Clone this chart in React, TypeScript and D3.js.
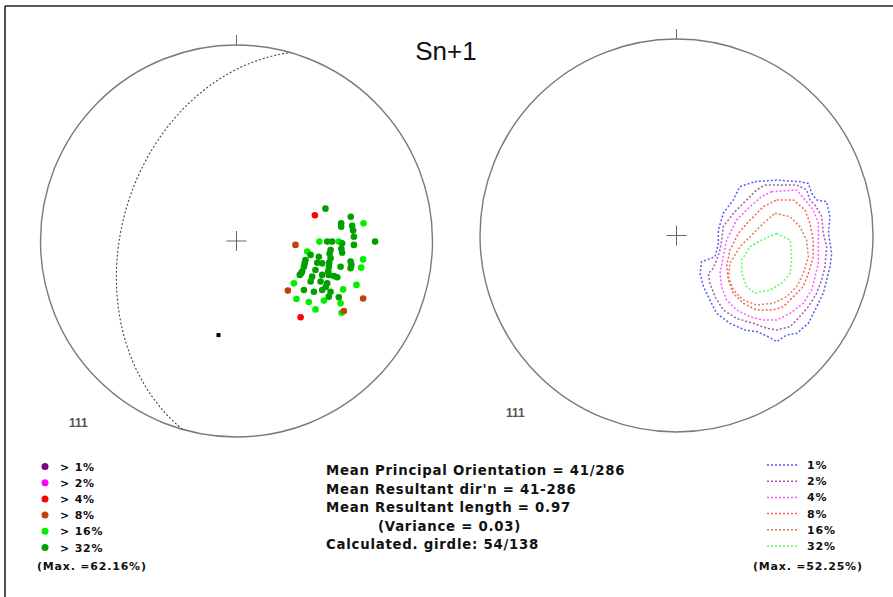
import React from 'react';
import * as d3 from 'd3';

const W = 893;
const H = 597;

const title = 'Sn+1';
const sampleCount = '111';

const densityLevels = ['1%', '2%', '4%', '8%', '16%', '32%'];
const pointColors = ['#800080', '#ff00ff', '#ff0000', '#c04010', '#00f000', '#00a000'];
const contourColors = ['#5858ff', '#a458b4', '#ff58ff', '#ff5858', '#d98058', '#58ff58'];

const statsLines = [
  'Mean Principal Orientation = 41/286',
  "Mean Resultant dir'n = 41-286",
  'Mean Resultant length = 0.97',
  '(Variance = 0.03)',
  'Calculated. girdle: 54/138',
];
const maxLeft = '(Max. =62.16%)';
const maxRight = '(Max. =52.25%)';

// mean plane (dip direction / dip)
const planeDipDir = 286;
const planeDip = 41;

// poles in net coordinates (East, North), % of net radius
const poles4: [number, number][] = [[40.0, 13.1], [32.7, -38.9]];
const poles8: [number, number][] = [[30.1, -2.0], [26.2, -25.3], [64.6, -29.3], [54.8, -35.7]];
const poles16: [number, number][] = [
  [64.8, 9.0], [42.3, -0.3], [52.2, -0.3], [36.1, -5.4], [64.6, -9.4], [63.6, -13.6],
  [29.3, -21.6], [61.2, -22.4], [54.4, -24.7], [30.6, -29.6], [36.9, -31.1], [44.6, -30.4],
  [53.1, -31.8], [40.3, -34.9], [53.6, -36.6],
];
const poles32: [number, number][] = [
  [45.4, 16.5], [58.3, 12.4], [53.4, 9.0], [53.4, 7.3], [59.0, 7.8], [59.5, 5.3], [59.9, 2.2],
  [46.3, -0.3], [48.8, -0.3], [53.9, -1.2], [59.9, -2.0], [70.7, -0.3], [48.0, -4.6], [53.9, -6.0],
  [37.8, -7.1], [42.0, -8.0], [48.0, -8.8], [58.2, -10.5], [35.2, -9.7], [41.2, -11.1], [43.7, -11.4],
  [53.1, -13.1], [58.2, -13.9], [34.4, -13.1], [33.5, -15.6], [40.3, -14.8], [47.1, -13.1],
  [32.3, -17.3], [38.6, -18.2], [43.7, -17.3], [47.1, -17.3], [49.7, -17.9], [51.4, -18.5],
  [37.8, -20.7], [42.9, -20.7], [46.3, -21.6], [34.4, -25.0], [39.5, -25.9], [43.7, -25.0],
  [48.0, -25.9], [52.2, -28.7], [47.1, -28.4], [47.5, -6.5], [47.3, -11.0], [46.8, -15.5],
  [45.5, -23.5], [53.5, -4.0], [58.6, -12.2], [34.8, -11.3], [33.0, -16.5],
];
const meanPoint: [number, number] = [-9.2, -48.0];

// density contours (East, North), % of net radius
const contour1: [number, number][] = [
  [39.9, 27.4], [51.0, 28.2], [62.8, 27.4], [67.1, 26.5], [68.8, 21.5], [71.3, 18.1], [76.4, 17.2],
  [78.1, 9.6], [77.3, 1.1], [79.0, -9.1], [78.1, -15.9], [76.4, -22.6], [74.7, -29.4], [70.5, -37.9],
  [67.1, -44.7], [61.2, -49.8], [56.1, -50.6], [51.0, -54.0], [46.7, -51.5], [40.8, -48.9],
  [34.9, -48.1], [27.2, -44.7], [20.4, -39.6], [17.0, -32.8], [13.7, -26.0], [12.0, -19.3],
  [12.8, -13.3], [19.6, -10.8], [21.3, -4.0], [21.3, 2.8], [23.8, 11.3], [28.9, 18.1], [32.3, 24.9],
];
const contour2: [number, number][] = [
  [45.0, 25.7], [61.2, 25.7], [66.2, 23.2], [67.9, 18.1], [70.5, 15.5], [73.9, 9.6], [74.7, 1.1],
  [76.4, -5.7], [75.6, -15.9], [73.9, -22.6], [71.3, -29.4], [67.1, -36.2], [61.2, -43.0],
  [57.8, -46.4], [51.0, -48.1], [45.9, -47.2], [39.1, -44.7], [30.6, -42.2], [23.8, -37.9],
  [19.6, -31.1], [17.0, -24.3], [16.2, -19.3], [18.7, -16.7], [20.4, -12.5], [22.1, -7.4],
  [23.0, -2.3], [23.8, 4.5], [28.9, 11.3], [35.7, 18.1], [40.8, 23.2],
];
const contour4: [number, number][] = [
  [48.4, 22.3], [61.2, 23.2], [65.4, 18.1], [69.6, 13.0], [72.2, 6.2], [72.2, -5.7], [72.2, -14.2],
  [70.5, -21.0], [68.8, -27.7], [64.5, -34.5], [57.8, -39.6], [51.0, -43.0], [44.2, -43.0],
  [37.4, -41.3], [30.6, -37.9], [25.5, -32.8], [23.0, -26.0], [22.1, -19.3], [23.8, -10.8],
  [25.5, -2.3], [30.6, 7.9], [37.4, 14.7], [43.3, 19.8],
];
const contour8: [number, number][] = [
  [51.0, 18.1], [59.5, 18.1], [65.4, 13.0], [67.9, 6.2], [69.6, -2.3], [69.6, -10.8], [67.1, -19.3],
  [64.5, -26.0], [59.5, -31.1], [54.4, -36.2], [49.3, -37.9], [40.8, -37.9], [34.0, -34.5],
  [28.9, -29.4], [26.4, -22.6], [25.5, -15.9], [27.2, -7.4], [31.5, 1.1], [37.4, 7.9], [44.2, 14.7],
];
const contour16: [number, number][] = [
  [50.1, 11.3], [57.8, 9.6], [62.8, 4.5], [66.2, -2.3], [67.1, -10.8], [64.5, -19.3], [61.2, -26.0],
  [56.1, -31.1], [49.3, -34.5], [40.8, -35.4], [34.0, -32.8], [28.9, -27.7], [26.4, -21.0],
  [27.2, -14.2], [32.3, -5.7], [37.4, -0.6], [44.2, 6.2],
];
const contour32: [number, number][] = [
  [51.0, 1.1], [57.8, -2.3], [58.6, -10.8], [57.8, -19.3], [53.5, -24.3], [47.6, -27.7],
  [39.9, -29.4], [35.7, -26.0], [33.2, -19.3], [33.2, -12.5], [37.4, -5.7], [43.3, -2.3],
];
const contours = [contour1, contour2, contour4, contour8, contour16, contour32];

const leftNet = { cx: 236.5, cy: 241, r: 196 };
const rightNet = { cx: 676.5, cy: 235.5, r: 196.5 };

function netScales(net: { cx: number; cy: number; r: number }) {
  const x = d3.scaleLinear().domain([-100, 100]).range([net.cx - net.r, net.cx + net.r]);
  const y = d3.scaleLinear().domain([-100, 100]).range([net.cy + net.r, net.cy - net.r]);
  return { x, y };
}

// equal-area (Schmidt) lower hemisphere projection of a plane's great circle
function greatCircle(dipDir: number, dip: number): [number, number][] {
  const rad = Math.PI / 180;
  const strike = (dipDir - 90) * rad;
  const s = [Math.sin(strike), Math.cos(strike), 0];
  const dd = dipDir * rad;
  const dp = dip * rad;
  const d = [Math.sin(dd) * Math.cos(dp), Math.cos(dd) * Math.cos(dp), -Math.sin(dp)];
  return d3.range(0, 181, 1).map((t) => {
    const a = t * rad;
    const v = [0, 1, 2].map((i) => Math.cos(a) * s[i] + Math.sin(a) * d[i]);
    const plunge = Math.asin(Math.min(1, Math.max(-1, -v[2])));
    const trend = Math.atan2(v[0], v[1]);
    const r = Math.SQRT2 * Math.sin((Math.PI / 2 - plunge) / 2) * 100;
    return [r * Math.sin(trend), r * Math.cos(trend)] as [number, number];
  });
}

function NetFrame({ net }: { net: { cx: number; cy: number; r: number } }) {
  return (
    <g>
      <circle cx={net.cx} cy={net.cy} r={net.r} fill="none" stroke="#7a7a7a" strokeWidth={1.4} />
      <line x1={net.cx} x2={net.cx} y1={net.cy - net.r - 10} y2={net.cy - net.r} stroke="#666" strokeWidth={1} />
      <line x1={net.cx - 10} x2={net.cx + 10} y1={net.cy} y2={net.cy} stroke="#666" strokeWidth={1} />
      <line x1={net.cx} x2={net.cx} y1={net.cy - 10} y2={net.cy + 10} stroke="#666" strokeWidth={1} />
    </g>
  );
}

const bitmapFont = {
  fontFamily: 'DejaVu Sans, Verdana, sans-serif',
  fontWeight: 700 as const,
};

export default function App() {
  const L = netScales(leftNet);
  const R = netScales(rightNet);
  const lineL = d3.line<[number, number]>().x((p) => L.x(p[0])).y((p) => L.y(p[1]));
  const lineR = d3
    .line<[number, number]>()
    .x((p) => R.x(p[0]))
    .y((p) => R.y(p[1]))
    .curve(d3.curveLinearClosed);

  const poleGroups: { pts: [number, number][]; color: string }[] = [
    { pts: poles16, color: pointColors[4] },
    { pts: poles32, color: pointColors[5] },
    { pts: poles8, color: pointColors[3] },
    { pts: poles4, color: pointColors[2] },
  ];

  const legendY = d3.scaleLinear().domain([0, 5]).range([466.5, 547.5]);
  const legendYR = d3.scaleLinear().domain([0, 5]).range([465, 546]);
  const statsY = d3.scaleLinear().domain([0, 4]).range([475, 549]);

  return (
    <svg width={W} height={H} style={{ position: 'absolute', left: 0, top: 0, background: '#fff' }}>
      <rect x={0} y={0} width={W} height={H} fill="#fff" />
      <line x1={5} x2={W} y1={6} y2={6} stroke="#222" strokeWidth={1.6} />
      <line x1={5} x2={5} y1={6} y2={H} stroke="#222" strokeWidth={1.6} />

      <text x={446} y={60} textAnchor="middle" fontFamily="Liberation Sans, Arial, sans-serif" fontSize={26} fill="#111">
        {title}
      </text>

      {/* Left net */}
      <NetFrame net={leftNet} />
      <path d={lineL(greatCircle(planeDipDir, planeDip)) || ''} fill="none" stroke="#444" strokeWidth={1.1} strokeDasharray="2,2" />
      {poleGroups.map((g, gi) =>
        g.pts.map((p, i) => <circle key={`${gi}-${i}`} cx={L.x(p[0])} cy={L.y(p[1])} r={3.3} fill={g.color} />)
      )}
      <rect x={L.x(meanPoint[0]) - 2} y={L.y(meanPoint[1]) - 2} width={4} height={4} fill="#000" />
      <text x={69} y={427} fontFamily="Liberation Sans, Arial, sans-serif" fontWeight={700} fontSize={12} fill="#555">
        {sampleCount}
      </text>

      {/* Right net */}
      <NetFrame net={rightNet} />
      {contours.map((c, i) => (
        <path key={i} d={lineR(c) || ''} fill="none" stroke={contourColors[i]} strokeWidth={1.5} strokeDasharray="2,2" />
      ))}
      <text x={506} y={417} fontFamily="Liberation Sans, Arial, sans-serif" fontWeight={700} fontSize={12} fill="#555">
        {sampleCount}
      </text>

      {/* Left legend */}
      {densityLevels.map((lv, i) => (
        <g key={lv}>
          <circle cx={45} cy={legendY(i)} r={3.5} fill={pointColors[i]} />
          <text x={60} y={legendY(i) + 4} fontSize={11} letterSpacing={0.8} {...bitmapFont} fill="#111">
            {`> ${lv}`}
          </text>
        </g>
      ))}
      <text x={37} y={570} fontSize={11} letterSpacing={0.8} {...bitmapFont} fill="#111">
        {maxLeft}
      </text>

      {/* Stats */}
      {statsLines.map((s, i) => (
        <text key={i} x={i === 3 ? 378 : 326} y={statsY(i)} fontSize={13.3} letterSpacing={0.75} {...bitmapFont} fill="#111">
          {s}
        </text>
      ))}

      {/* Right legend */}
      {densityLevels.map((lv, i) => (
        <g key={lv}>
          <line x1={767} x2={798} y1={legendYR(i)} y2={legendYR(i)} stroke={contourColors[i]} strokeWidth={1.5} strokeDasharray="2,2" />
          <text x={807} y={legendYR(i) + 4} fontSize={11} letterSpacing={0.8} {...bitmapFont} fill="#111">
            {lv}
          </text>
        </g>
      ))}
      <text x={753} y={570} fontSize={11} letterSpacing={0.8} {...bitmapFont} fill="#111">
        {maxRight}
      </text>
    </svg>
  );
}
